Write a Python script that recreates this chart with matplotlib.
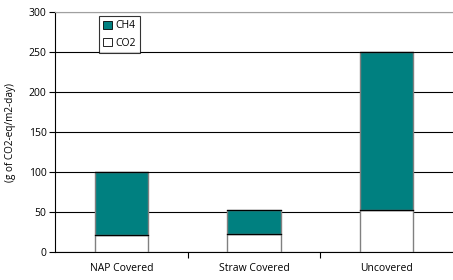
import matplotlib.pyplot as plt
import numpy as np
from matplotlib.patches import Patch

categories = ["NAP Covered", "Straw Covered", "Uncovered"]
co2 = [21, 23, 53]
ch4 = [79, 29, 197]

plt.rcParams['font.family'] = ['Open Sans', 'DejaVu Sans']

fig = plt.figure(figsize=(4.53, 2.8), dpi=100)
ax = fig.add_axes([0.1214, 0.1, 0.8786, 0.857])

x = np.arange(len(categories))
ax.bar(x, co2, width=0.4, color='white', edgecolor='#808080', linewidth=1, zorder=3)
ax.bar(x, ch4, width=0.4, bottom=co2, color='#008080', edgecolor='#808080', linewidth=1, zorder=3)
# dark line between segments
for xi, c, h in zip(x, co2, ch4):
    ax.plot([xi - 0.2, xi + 0.2], [c, c], color='black', lw=0.9, zorder=4)
    ax.plot([xi - 0.2, xi + 0.2], [c + h, c + h], color='black', lw=0.9, zorder=4)

ax.set_xlim(-0.5, 2.5)
ax.set_ylim(0, 300)
ax.set_yticks(np.arange(0, 301, 50))
ax.set_xticks(x)
ax.set_xticklabels(categories, fontsize=7.5)
ax.set_xticks([0.5, 1.5], minor=True)
ax.tick_params(axis='x', which='major', length=0, pad=8)
ax.tick_params(axis='x', which='minor', length=4, width=0.8)
ax.tick_params(axis='y', labelsize=7.5, length=4, width=0.8, pad=2)
ax.yaxis.grid(True, color='black', lw=0.8, zorder=0)
ax.set_axisbelow(True)
ax.spines['right'].set_visible(False)
ax.spines['top'].set_color('#a0a0a0')
ax.spines['left'].set_linewidth(0.8)
ax.spines['bottom'].set_linewidth(0.8)
ax.set_ylabel("(g of CO2-eq/m2-day)", fontsize=7.2, labelpad=9)

handles = [Patch(facecolor='#008080', edgecolor='black', lw=0.6),
           Patch(facecolor='white', edgecolor='black', lw=0.6)]
leg = ax.legend(handles, ["CH4", "CO2"], loc='upper left', bbox_to_anchor=(0.11, 0.985),
                fontsize=7.5, frameon=True, fancybox=False, handlelength=0.8, handleheight=0.8,
                handletextpad=0.3, borderpad=0.45, labelspacing=0.6, borderaxespad=0)
leg.get_frame().set_edgecolor('black')
leg.get_frame().set_linewidth(0.8)

fig.savefig("out.png", dpi=100)
